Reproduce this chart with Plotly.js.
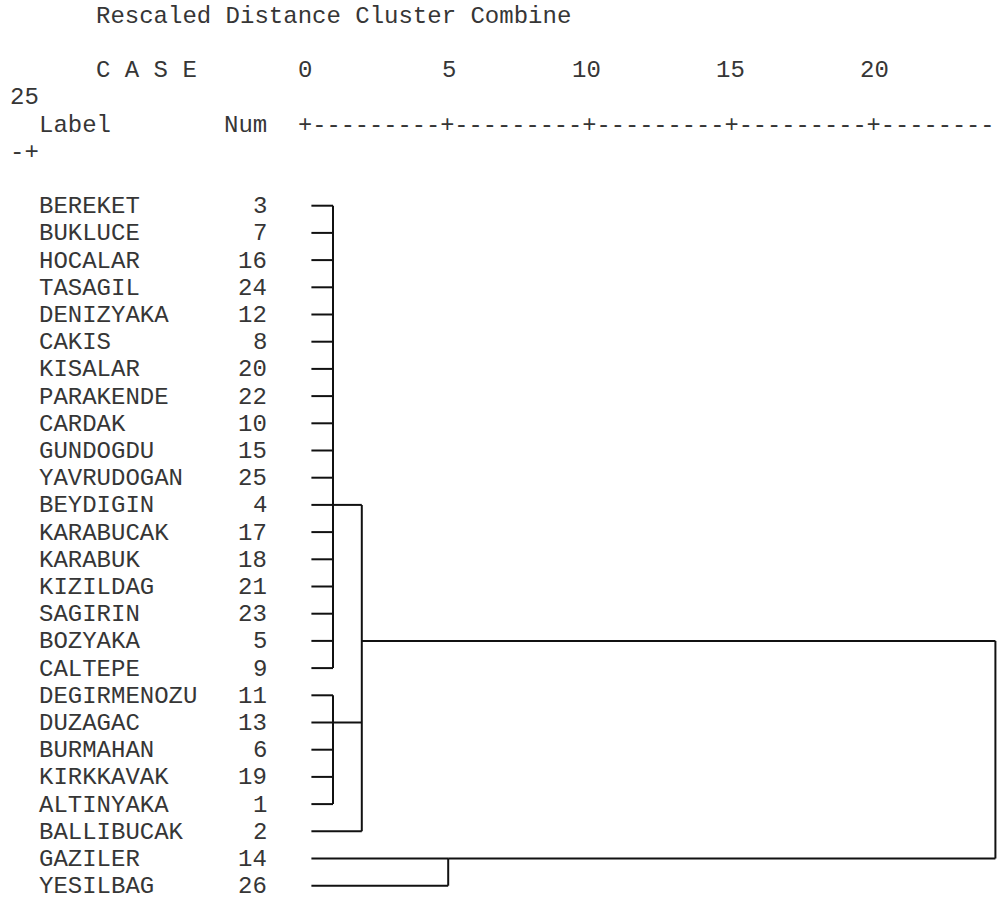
<!DOCTYPE html>
<html>
<head>
<meta charset="utf-8">
<script src="https://cdn.plot.ly/plotly-3.0.1.min.js"></script>
<style>
html, body { margin: 0; padding: 0; background: #ffffff; }
#chart { width: 997px; height: 899px; }
</style>
</head>
<body>
<div id="chart"></div>
<script>
// ---------------- data ----------------
const chartTitle = 'Rescaled Distance Cluster Combine';
const caseHeader = 'C A S E';
const labelHeader = 'Label';
const numHeader = 'Num';

// cases in dendrogram (display) order
const caseLabels = ['BEREKET', 'BUKLUCE', 'HOCALAR', 'TASAGIL', 'DENIZYAKA', 'CAKIS',
  'KISALAR', 'PARAKENDE', 'CARDAK', 'GUNDOGDU', 'YAVRUDOGAN', 'BEYDIGIN', 'KARABUCAK',
  'KARABUK', 'KIZILDAG', 'SAGIRIN', 'BOZYAKA', 'CALTEPE', 'DEGIRMENOZU', 'DUZAGAC',
  'BURMAHAN', 'KIRKKAVAK', 'ALTINYAKA', 'BALLIBUCAK', 'GAZILER', 'YESILBAG'];
const caseNums = [3, 7, 16, 24, 12, 8, 20, 22, 10, 15, 25, 4, 17, 18, 21, 23, 5, 9,
  11, 13, 6, 19, 1, 2, 14, 26];

// scale ticks (rescaled distance)
const axisTicks = [0, 5, 10, 15, 20, 25];

// cluster joins: members ('L' + case position, or 'N' + earlier join), join distance, row of the join line
const mergeMembers = [
  ['L0', 'L1', 'L2', 'L3', 'L4', 'L5', 'L6', 'L7', 'L8', 'L9', 'L10', 'L11', 'L12', 'L13', 'L14', 'L15', 'L16', 'L17'],
  ['L18', 'L19', 'L20', 'L21', 'L22'],
  ['N0', 'N1', 'L23'],
  ['L24', 'L25'],
  ['N2', 'N3']
];
const mergeHeights = [1, 1, 2, 5, 24];
const mergeRows = [11, 19, 16, 24, null];

// ---------------- layout helpers ----------------
const FONT_FAMILY = '"Courier New", "Liberation Mono", monospace';
const FONT = {family: FONT_FAMILY, size: 24, color: '#363636'};
const RULE_FONT = {family: FONT_FAMILY, size: 23.7, color: '#363636'};
const WRAP = 69;                       // text columns per printed line
const col2x = c => (c - 20.5) / 2;     // text column (left edge) -> distance units (2 columns per unit)
const ROW_TITLE = -7, ROW_SCALE = -5, ROW_SCALE_WRAP = -4, ROW_AXIS = -3, ROW_AXIS_WRAP = -2;

const annotations = [];
function txt(text, col, row, anchor, font) {
  annotations.push({
    x: col2x(col), y: row, xref: 'x', yref: 'y', text: text, showarrow: false,
    xanchor: anchor || 'left', yanchor: 'middle', borderpad: 0, yshift: -1,
    font: font || FONT
  });
}

// header texts
txt(chartTitle, 6, ROW_TITLE);
txt(caseHeader, 6, ROW_SCALE);
txt(labelHeader, 2, ROW_AXIS);
txt(numHeader, 18, ROW_AXIS, 'right');

// scale numbers (right digit aligned to the tick column), wrapped like the text output
axisTicks.forEach(t => {
  const s = String(t);
  const endCol = 20 + 2 * t;
  const startCol = endCol - s.length + 1;
  if (endCol >= WRAP) txt(s, startCol - WRAP, ROW_SCALE_WRAP);
  else txt(s, startCol, ROW_SCALE);
});

// scale rule +---------+ ...
let rule = '';
const lastCol = 20 + 2 * axisTicks[axisTicks.length - 1];
for (let c = 20; c <= lastCol; c++) {
  rule += axisTicks.some(t => 20 + 2 * t === c) ? '+' : '-';
}
txt(rule.slice(0, WRAP - 20), 20, ROW_AXIS, 'left', RULE_FONT);
txt(rule.slice(WRAP - 20), 0, ROW_AXIS_WRAP);

// case labels and numbers
caseLabels.forEach((lab, i) => {
  txt(lab, 2, i);
  txt(String(caseNums[i]), 18, i, 'right');
});

// ---------------- dendrogram lines ----------------
const LEAF_X0 = col2x(21);
const lx = [], ly = [];
function seg(x0, y0, x1, y1) { lx.push(x0, x1, null); ly.push(y0, y1, null); }
function memberPos(m) {
  const k = parseInt(m.slice(1), 10);
  if (m[0] === 'L') return {x: LEAF_X0, row: k};
  return {x: mergeHeights[k], row: mergeRows[k]};
}
mergeMembers.forEach((members, j) => {
  const h = mergeHeights[j];
  const pos = members.map(memberPos);
  const rows = pos.map(p => p.row);
  seg(h, Math.min(...rows), h, Math.max(...rows));
  pos.forEach(p => seg(p.x, p.row, h, p.row));
});

const trace = {
  type: 'scatter', mode: 'lines', x: lx, y: ly,
  line: {color: '#111111', width: 2}, hoverinfo: 'skip', showlegend: false
};

const layout = {
  width: 997, height: 899,
  margin: {l: 0, r: 0, t: 0, b: 0, pad: 0},
  paper_bgcolor: '#ffffff', plot_bgcolor: '#ffffff',
  showlegend: false,
  xaxis: {visible: false, range: [-304.2 / 28.8, (997 - 304.2) / 28.8], fixedrange: true},
  yaxis: {visible: false, range: [(899 - 205.7) / 27.2, -205.7 / 27.2], fixedrange: true},
  annotations: annotations
};

Plotly.newPlot('chart', [trace], layout, {displayModeBar: false, staticPlot: true});
</script>
</body>
</html>
